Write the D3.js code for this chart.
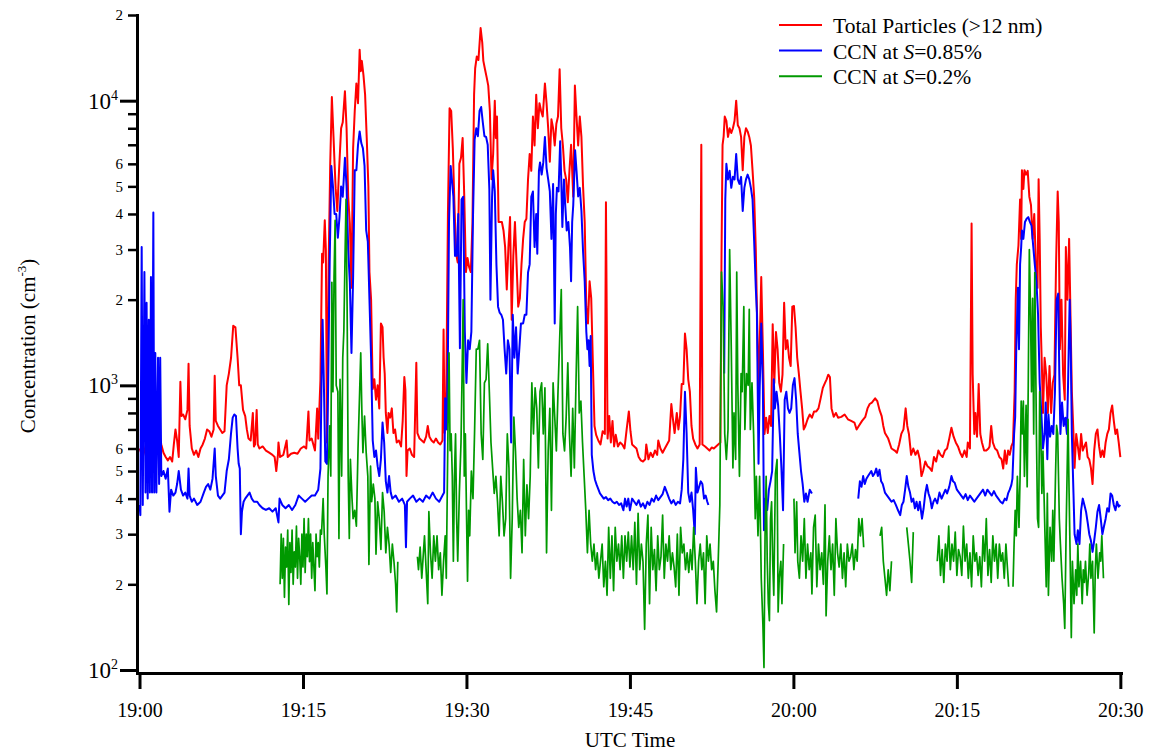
<!DOCTYPE html>
<html>
<head>
<meta charset="utf-8">
<script src="https://cdn.jsdelivr.net/npm/d3@7"></script>
<style>
  body { margin: 0; background: #fff; }
  text { font-family: "Liberation Serif", "Times New Roman", serif; fill: #000; }
</style>
</head>
<body>
<svg id="chart" width="1154" height="751"></svg>
<script>
// minutes after 19:00 UTC
const timeTicks = [0, 15, 30, 45, 60, 75, 90];
const timeLabels = ["19:00", "19:15", "19:30", "19:45", "20:00", "20:15", "20:30"];
const yMajorTicks = [100, 1000, 10000];
const yMajorLabels = ["2", "3", "4"]; // exponents of 10
const yMinorTicks = [200, 300, 400, 500, 600, 700, 800, 900,
  2000, 3000, 4000, 5000, 6000, 7000, 8000, 9000, 20000];

const legendNames = ["Total Particles (>12 nm)", "CCN at S=0.85%", "CCN at S=0.2%"];
const seriesColors = ["#ff0000", "#0000ff", "#009900"];

// [minute, cm^-3], null = no data
const totalParticles = [
  [0,600],[0.3,560],[0.6,620],[0.9,580],[1.2,640],[1.5,600],[1.8,680],[2,620],[2.2,580],[2.4,560],[2.6,545],[2.8,560],
  [3,540],[3.15,620],[3.3,700],[3.45,640],[3.6,560],[3.75,1030],[3.85,780],[4,790],[4.2,760],[4.4,820],[4.5,1190],[4.6,720],
  [4.8,600],[5,570],[5.2,590],[5.4,560],[5.6,600],[5.8,620],[6,650],[6.2,700],[6.4,690],[6.6,660],[6.8,700],[6.9,1080],
  [7,750],[7.2,720],[7.4,700],[7.6,680],[7.8,690],[8,1000],[8.2,1100],[8.4,1250],[8.6,1620],[8.8,1600],[9,1250],[9.15,1000],
  [9.3,1000],[9.5,820],[9.7,780],[9.85,700],[10,650],[10.2,640],[10.4,800],[10.5,610],[10.6,620],[10.75,820],[10.85,620],
  [11,600],[11.3,610],[11.6,590],[11.9,580],[12.2,570],[12.4,560],[12.55,500],[12.7,570],[12.75,630],[12.9,560],[13.2,570],
  [13.5,640],[13.6,560],[13.9,575],[14.2,580],[14.5,575],[14.8,600],[15.1,610],[15.3,600],[15.5,810],[15.6,640],[15.8,650],
  [16,610],[16.1,590],[16.3,830],[16.4,650],[16.6,1040],[16.75,2900],[16.85,2700],[17,3800],[17.1,3000],[17.2,630],[17.35,2600],
  [17.5,6000],[17.65,10300],[17.8,7500],[17.9,6000],[18,4900],[18.15,4100],[18.3,5600],[18.5,8000],[18.65,8400],[18.85,10800],
  [19,8000],[19.15,4600],[19.3,3700],[19.45,2200],[19.6,6800],[19.75,9200],[19.9,11500],[20.05,9800],[20.2,15100],[20.3,12700],
  [20.4,13800],[20.55,12300],[20.7,10500],[20.85,7400],[21,5000],[21.1,2500],[21.25,2000],[21.4,970],[21.55,1050],[21.7,890],
  [21.85,1000],[22,830],[22.15,1650],[22.3,1600],[22.4,1250],[22.5,1100],[22.6,800],[22.75,680],[22.85,800],[23,770],[23.15,830],
  [23.3,680],[23.45,700],[23.6,630],[23.8,640],[24,610],[24.15,750],[24.3,1070],[24.4,960],[24.5,480],[24.6,590],[24.8,600],
  [25,570],[25.2,560],[25.4,1200],[25.5,680],[25.7,650],[25.9,640],[26.1,630],[26.3,660],[26.45,720],[26.6,660],[26.8,640],
  [27,630],[27.2,650],[27.4,630],[27.6,620],[27.8,640],[27.9,1570],[28,680],[28.15,950],[28.3,4000],[28.45,9400],[28.6,9200],
  [28.75,6800],[28.9,4300],[29.05,2900],[29.2,2700],[29.35,6000],[29.5,6300],[29.65,7400],[29.8,4600],[29.95,2500],[30.1,2800],
  [30.25,2600],[30.4,2500],[30.55,3700],[30.7,10500],[30.8,13000],[30.95,14300],[31.1,13900],[31.3,18000],[31.45,16000],
  [31.55,13800],[31.7,12900],[31.85,12100],[32,11300],[32.15,9200],[32.3,5300],[32.45,6500],[32.6,10000],[32.7,7400],[32.8,8800],
  [32.95,3750],[33.1,3750],[33.25,3750],[33.4,3500],[33.55,3060],[33.7,2170],[33.85,3060],[34,3900],[34.15,1700],[34.3,2850],
  [34.45,3750],[34.6,2660],[34.75,1890],[34.9,2020],[35.05,2660],[35.2,3270],[35.35,3750],[35.5,3850],[35.65,5290],[35.8,6500],
  [35.95,5670],[36.1,8800],[36.25,6960],[36.4,10500],[36.55,8000],[36.7,9800],[36.85,9200],[37,8800],[37.2,11500],[37.35,9800],
  [37.5,8000],[37.65,6100],[37.8,8600],[37.95,8000],[38.1,6960],[38.25,8300],[38.4,8800],[38.55,12900],[38.7,8000],[38.85,6960],
  [39,5670],[39.15,5290],[39.3,4400],[39.45,5670],[39.6,7000],[39.8,4600],[39.95,11300],[40.1,8800],[40.25,6960],[40.4,8800],
  [40.55,7460],[40.7,5000],[40.85,3750],[41,1890],[41.15,1650],[41.3,2320],[41.45,2020],[41.6,1200],[41.75,720],[41.9,670],
  [42.1,640],[42.3,620],[42.5,690],[42.7,675],[42.8,4400],[42.95,650],[43.1,780],[43.25,630],[43.4,750],[43.55,610],[43.7,670],
  [43.9,610],[44.1,630],[44.3,620],[44.5,600],[44.7,700],[44.9,810],[45.05,690],[45.2,620],[45.4,610],[45.6,600],[45.8,560],
  [46,545],[46.2,540],[46.4,550],[46.5,620],[46.7,550],[46.9,580],[47.1,560],[47.3,590],[47.5,570],[47.6,640],[47.8,600],
  [48,580],[48.2,600],[48.4,620],[48.6,640],[48.8,860],[48.95,760],[49.1,680],[49.3,800],[49.45,700],[49.6,780],[49.75,1010],
  [49.9,1010],[50.05,1520],[50.2,1340],[50.35,1050],[50.5,950],[50.65,720],[50.8,650],[51,620],[51.2,600],[51.4,620],
  [51.55,7000],[51.65,620],[51.9,610],[52.1,600],[52.3,590],[52.5,605],[52.7,600],[52.9,610],[53.1,620],[53.3,630],[53.4,2750],
  [53.5,7000],[53.6,7500],[53.7,8800],[53.85,8500],[54,7460],[54.15,8000],[54.3,7700],[54.45,8000],[54.6,8500],[54.75,10000],
  [54.9,8200],[55.05,8000],[55.2,7460],[55.35,5700],[55.5,7460],[55.65,8000],[55.8,7800],[55.95,7460],[56.1,6960],[56.25,5700],
  [56.4,4600],[56.55,3000],[56.65,1890],[56.8,970],[56.9,1340],[57.05,2400],[57.2,1340],[57.35,675],[57.5,770],[57.65,680],
  [57.8,780],[57.95,720],[58.1,1640],[58.25,1020],[58.4,1540],[58.55,1340],[58.7,1020],[58.85,950],[59,1090],[59.15,1950],
  [59.3,1340],[59.45,1440],[59.6,1250],[59.75,1170],[59.9,1890],[60.05,1900],[60.2,1600],[60.35,1250],[60.5,1100],[60.65,950],
  [60.8,830],[60.95,700],[61.1,720],[61.3,760],[61.5,790],[61.7,770],[61.9,810],[62.1,810],[62.3,830],[62.5,900],[62.7,980],
  [62.9,1020],[63.05,1050],[63.2,1090],[63.35,1070],[63.5,830],[63.7,775],[63.9,800],[64.1,770],[64.4,775],[64.7,790],[65,760],
  [65.3,750],[65.6,740],[65.8,700],[66,720],[66.3,750],[66.6,775],[66.8,830],[67,860],[67.2,870],[67.5,900],[67.7,880],
  [67.9,820],[68.1,780],[68.25,720],[68.4,680],[68.7,650],[69,600],[69.3,590],[69.5,580],[69.7,620],[69.9,675],[70.1,700],
  [70.3,830],[70.45,720],[70.6,675],[70.8,570],[71,600],[71.2,570],[71.4,590],[71.6,550],[71.75,480],[71.9,500],[72.1,540],
  [72.3,520],[72.5,513],[72.7,500],[72.9,560],[73.1,540],[73.3,590],[73.5,570],[73.7,560],[73.9,590],[74.1,600],[74.3,650],
  [74.5,710],[74.7,660],[74.9,630],[75.1,610],[75.3,580],[75.5,560],[75.7,590],[75.9,560],[76,630],[76.2,600],[76.35,3700],
  [76.45,1090],[76.6,675],[76.7,800],[76.85,660],[77,1010],[77.15,675],[77.3,630],[77.5,590],[77.7,590],[77.9,600],[78,610],
  [78.15,720],[78.3,630],[78.5,600],[78.7,590],[78.9,560],[79.1,550],[79.25,510],[79.4,590],[79.55,530],[79.7,590],[79.85,570],
  [80,610],[80.15,630],[80.3,950],[80.4,2000],[80.5,2660],[80.65,3100],[80.8,4500],[80.9,3270],[80.97,5700],[81.1,4900],
  [81.2,5700],[81.35,5500],[81.5,5670],[81.65,4600],[81.8,4300],[81.95,3270],[82.1,4000],[82.25,2660],[82.4,2200],[82.5,5300],
  [82.6,3270],[82.7,1600],[82.8,1170],[82.9,800],[83.05,1250],[83.2,1090],[83.35,800],[83.5,1170],[83.65,800],[83.8,1020],
  [83.95,1090],[84.1,2660],[84.25,4800],[84.35,3750],[84.45,1340],[84.6,2000],[84.75,1090],[84.9,890],[85,3060],[85.15,2000],
  [85.3,3270],[85.4,2000],[85.55,950],[85.7,675],[85.8,513],[85.95,675],[86.1,610],[86.25,550],[86.4,675],[86.55,590],[86.7,610],
  [86.85,630],[87,560],[87.15,549],[87.3,513],[87.45,450],[87.6,590],[87.75,675],[87.9,700],[88.05,610],[88.2,560],[88.35,590],
  [88.5,560],[88.65,630],[88.8,675],[88.95,700],[89.1,800],[89.25,850],[89.4,750],[89.55,675],[89.7,700],[89.85,630],[90,560]
];

const ccnHigh = [
  [0,380],[0.08,350],[0.2,3060],[0.3,380],[0.45,2500],[0.55,420],[0.65,1950],[0.75,400],[0.85,1700],[0.95,420],[1.05,2400],
  [1.15,420],[1.27,4050],[1.35,420],[1.45,1300],[1.55,420],[1.7,1250],[1.8,450],[1.9,1250],[2,480],[2.2,500],[2.4,470],[2.6,510],
  [2.75,360],[2.9,430],[3.1,410],[3.3,420],[3.45,450],[3.6,500],[3.8,430],[4,410],[4.2,420],[4.4,400],[4.5,510],[4.6,410],
  [4.8,390],[5,400],[5.3,380],[5.6,390],[5.9,420],[6.1,440],[6.3,450],[6.5,430],[6.7,470],[6.9,600],[7,480],[7.2,410],[7.4,400],
  [7.6,410],[7.8,420],[8,500],[8.2,550],[8.4,680],[8.55,770],[8.7,790],[8.85,780],[9,600],[9.1,530],[9.2,510],[9.3,300],[9.4,360],
  [9.55,390],[9.7,400],[9.9,410],[10.1,420],[10.3,400],[10.5,390],[10.8,390],[11,380],[11.3,370],[11.6,365],[11.9,370],[12.2,360],
  [12.5,370],[12.75,330],[12.85,400],[13.1,380],[13.4,370],[13.7,380],[14,365],[14.3,380],[14.6,410],[14.9,400],[15.2,390],
  [15.5,400],[15.8,410],[16.1,410],[16.4,430],[16.6,510],[16.7,1030],[16.8,1700],[16.9,1100],[17.05,540],[17.2,530],[17.3,950],
  [17.45,2700],[17.6,5900],[17.75,5000],[17.9,4000],[18.05,4000],[18.2,3300],[18.35,3900],[18.5,5000],[18.65,4600],[18.85,6300],
  [19,5000],[19.15,3000],[19.3,2300],[19.45,1300],[19.6,2400],[19.75,5700],[19.9,5700],[20.05,7000],[20.2,7800],[20.35,7100],
  [20.5,6800],[20.65,5900],[20.8,3500],[20.95,3200],[21.1,2000],[21.25,1250],[21.4,640],[21.55,560],[21.7,590],[21.85,520],
  [22,480],[22.15,550],[22.3,740],[22.45,630],[22.6,460],[22.75,420],[22.9,480],[23.05,420],[23.2,400],[23.5,410],[23.8,390],
  [24.1,400],[24.35,380],[24.45,270],[24.55,390],[24.8,400],[25.1,410],[25.4,390],[25.7,400],[26,390],[26.3,410],[26.6,400],
  [26.9,420],[27.2,400],[27.5,390],[27.8,410],[27.95,420],[28.05,900],[28.2,700],[28.3,1300],[28.4,3750],[28.55,5900],[28.7,5100],
  [28.8,4600],[28.95,2850],[29.1,2850],[29.25,4000],[29.4,1350],[29.55,4500],[29.7,4600],[29.85,1550],[30,1020],[30.15,1440],
  [30.3,1340],[30.45,1540],[30.6,3900],[30.75,7300],[30.9,8000],[31.05,7500],[31.2,9200],[31.35,9500],[31.5,8400],[31.65,7500],
  [31.8,7460],[31.95,7000],[32.1,4900],[32.2,2000],[32.35,4600],[32.45,5700],[32.6,4800],[32.75,2660],[32.9,1890],[33.05,1800],
  [33.2,1770],[33.35,1700],[33.5,1340],[33.65,1100],[33.8,1440],[33.95,1340],[34.1,630],[34.25,1770],[34.4,1250],[34.55,1600],
  [34.7,1100],[34.85,1340],[35,1650],[35.2,1650],[35.35,1770],[35.5,1770],[35.65,2490],[35.8,2660],[35.95,4600],[36.1,4800],
  [36.25,3060],[36.4,4000],[36.5,2900],[36.65,5670],[36.75,6070],[36.9,5500],[37.05,6070],[37.2,7460],[37.35,5800],[37.5,5290],
  [37.65,4800],[37.8,3270],[37.95,5100],[38.1,1650],[38.2,4000],[38.3,4940],[38.45,4800],[38.6,7200],[38.7,5290],[38.8,3600],
  [38.95,5290],[39.05,4400],[39.2,3500],[39.35,3750],[39.5,3060],[39.6,2320],[39.7,3750],[39.8,4300],[39.97,6700],[40.1,5670],
  [40.25,4610],[40.4,4940],[40.55,4100],[40.7,2950],[40.85,2320],[41,1540],[41.1,1340],[41.2,1440],[41.3,1170],[41.4,1490],
  [41.5,570],[41.65,500],[41.8,465],[41.95,447],[42.1,432],[42.25,417],[42.4,410],[42.6,400],[42.8,405],[43,395],[43.2,400],
  [43.4,390],[43.6,385],[43.8,390],[44,380],[44.2,385],[44.4,364],[44.55,400],[44.7,375],[44.85,400],[45,364],[45.2,400],
  [45.4,390],[45.6,380],[45.8,395],[46,375],[46.2,385],[46.4,370],[46.6,390],[46.8,380],[47,400],[47.2,390],[47.4,410],
  [47.6,395],[47.8,405],[48,415],[48.2,440],[48.4,420],[48.6,400],[48.8,385],[49,395],[49.2,380],[49.4,390],[49.6,385],
  [49.75,430],[49.9,550],[50.05,950],[50.2,680],[50.35,420],[50.5,390],[50.65,420],[50.8,365],[50.95,300],[51.05,513],[51.2,420],
  [51.35,440],[51.5,460],[51.65,450],[51.8,400],[51.95,410],[52.1,390],[52.2,380],[52.3,null],
  [53.6,null],[53.65,1100],[53.75,4500],[53.85,6000],[54,5290],[54.15,5670],[54.3,4940],[54.45,5400],[54.6,5290],[54.75,6500],
  [54.9,5290],[55.05,5100],[55.2,5400],[55.35,4100],[55.5,4940],[55.65,5290],[55.8,5500],[55.95,5290],[56.1,4940],[56.25,4500],
  [56.4,3200],[56.55,2200],[56.65,1800],[56.8,530],[56.9,950],[57.05,1650],[57.2,1000],[57.3,310],[57.45,400],[57.6,365],
  [57.75,430],[57.9,460],[58.05,500],[58.2,1050],[58.3,830],[58.45,950],[58.6,850],[58.75,675],[58.9,513],[59.05,364],[59.2,890],
  [59.35,950],[59.5,830],[59.65,800],[59.8,830],[59.95,1000],[60.1,1060],[60.25,890],[60.4,675],[60.55,580],[60.7,500],
  [60.85,450],[61,390],[61.15,417],[61.3,390],[61.5,430],[61.7,417],[61.8,null],
  [65.9,null],[65.95,400],[66.1,460],[66.25,440],[66.4,480],[66.55,450],[66.7,470],[66.85,480],[67,490],[67.15,500],[67.3,480],
  [67.45,490],[67.6,510],[67.75,480],[67.9,505],[68.05,460],[68.2,450],[68.4,420],[68.6,410],[68.8,400],[69,390],[69.2,395],
  [69.4,380],[69.6,364],[69.8,350],[69.95,380],[70.1,390],[70.25,430],[70.4,480],[70.55,440],[70.7,420],[70.85,390],[71,400],
  [71.15,370],[71.3,390],[71.45,364],[71.6,390],[71.8,340],[71.95,370],[72.1,417],[72.25,447],[72.4,417],[72.55,400],[72.7,370],
  [72.85,390],[73,400],[73.2,385],[73.4,420],[73.6,400],[73.8,417],[73.95,430],[74.1,417],[74.3,440],[74.5,480],[74.65,460],
  [74.8,455],[75,430],[75.2,420],[75.4,410],[75.6,400],[75.8,415],[76,395],[76.2,410],[76.4,400],[76.6,390],[76.8,400],[77,410],
  [77.2,420],[77.4,430],[77.6,410],[77.8,430],[78,420],[78.2,410],[78.4,425],[78.6,410],[78.8,400],[79,390],[79.2,385],[79.4,400],
  [79.55,395],[79.7,417],[79.85,430],[80,447],[80.1,470],[80.25,675],[80.35,774],[80.45,1340],[80.6,2200],[80.7,1340],[80.8,2660],
  [80.9,3060],[80.97,3500],[81.1,3270],[81.25,3750],[81.4,3850],[81.55,3900],[81.7,3750],[81.85,3640],[82,3100],[82.15,2660],
  [82.3,2320],[82.45,1770],[82.6,1020],[82.75,800],[82.9,600],[83.05,675],[83.15,870],[83.3,550],[83.4,790],[83.55,660],
  [83.7,720],[83.85,675],[84,950],[84.15,2000],[84.3,2100],[84.4,1090],[84.5,675],[84.65,870],[84.8,720],[84.95,770],[85.1,675],
  [85.2,1000],[85.35,2000],[85.45,1340],[85.55,675],[85.7,417],[85.8,300],[85.98,277],[86.1,310],[86.25,277],[86.4,364],
  [86.55,400],[86.7,380],[86.85,360],[87,330],[87.15,300],[87.3,285],[87.45,260],[87.6,285],[87.75,317],[87.9,360],[88.05,380],
  [88.2,340],[88.35,300],[88.5,320],[88.65,340],[88.8,370],[88.95,360],[89.1,417],[89.25,410],[89.4,380],[89.55,364],[89.7,390],
  [89.85,375],[90,380]
];

const ccnLow = [
  [12.9,200],[13,300],[13.1,210],[13.2,290],[13.3,180],[13.4,270],[13.5,230],[13.6,310],[13.7,170],[13.8,280],[13.9,220],
  [14,310],[14.1,200],[14.2,260],[14.3,230],[14.4,320],[14.5,210],[14.6,290],[14.7,250],[14.8,200],[14.9,300],[15,230],
  [15.1,340],[15.2,220],[15.3,300],[15.4,250],[15.5,340],[15.6,240],[15.7,300],[15.8,210],[15.9,280],[16,230],[16.1,190],
  [16.2,300],[16.3,250],[16.4,280],[16.5,230],[16.6,310],[16.7,300],[16.85,400],[16.95,300],[17.1,230],[17.2,185],[17.3,480],
  [17.45,720],[17.55,480],[17.65,2300],[17.75,950],[17.85,2400],[17.95,3800],[18.05,1000],[18.2,950],[18.3,290],[18.4,1050],
  [18.55,480],[18.65,1250],[18.75,1550],[18.85,2700],[18.95,4500],[19.05,1890],[19.15,480],[19.25,290],[19.35,550],[19.5,400],
  [19.6,340],[19.75,364],[19.9,320],[20.05,600],[20.2,950],[20.3,1300],[20.4,820],[20.5,580],[20.65,780],[20.8,580],[20.95,480],
  [21.05,235],[21.2,520],[21.3,390],[21.45,450],[21.6,400],[21.7,255],[21.85,390],[22,340],[22.15,265],[22.3,420],[22.45,360],
  [22.6,258],[22.75,317],[22.9,277],[23.05,220],[23.2,277],[23.35,240],[23.5,200],[23.6,160],[23.7,240],[23.8,null],
  [25.4,null],[25.5,250],[25.6,225],[25.75,270],[25.9,210],[26,241],[26.15,296],[26.3,225],[26.45,171],[26.55,360],[26.7,258],
  [26.85,210],[27,296],[27.15,241],[27.3,296],[27.45,225],[27.6,258],[27.75,183],[27.9,241],[28.05,296],[28.15,210],[28.3,680],
  [28.4,1300],[28.5,590],[28.6,675],[28.7,480],[28.8,241],[28.9,480],[29,675],[29.1,340],[29.2,241],[29.35,420],[29.5,630],
  [29.6,1100],[29.7,2000],[29.8,480],[29.9,675],[30,364],[30.1,205],[30.2,364],[30.3,296],[30.45,500],[30.6,400],[30.75,700],
  [30.9,1340],[31.05,1340],[31.2,1440],[31.35,675],[31.5,549],[31.65,1020],[31.8,1050],[31.95,1400],[32.1,950],[32.25,630],
  [32.4,513],[32.55,417],[32.7,479],[32.85,390],[33,296],[33.15,479],[33.3,390],[33.45,296],[33.6,340],[33.75,675],[33.9,513],
  [34.05,210],[34.2,340],[34.35,774],[34.5,588],[34.65,400],[34.8,317],[34.95,364],[35.1,258],[35.25,549],[35.4,296],[35.55,447],
  [35.7,340],[35.85,479],[36,1020],[36.15,675],[36.3,980],[36.45,830],[36.6,513],[36.75,950],[36.9,1020],[37.05,675],[37.2,980],
  [37.35,258],[37.5,588],[37.65,830],[37.8,364],[37.95,1020],[38.1,774],[38.25,588],[38.4,950],[38.55,1440],[38.7,2170],
  [38.85,675],[39,588],[39.15,774],[39.3,1200],[39.45,675],[39.6,479],[39.75,830],[39.9,513],[40.05,1020],[40.2,1890],[40.35,800],
  [40.5,880],[40.65,630],[40.8,479],[40.95,364],[41.1,258],[41.25,364],[41.4,277],[41.55,241],[41.7,277],[41.85,225],[42,258],
  [42.15,210],[42.3,241],[42.45,277],[42.6,196],[42.75,241],[42.9,183],[43.05,317],[43.2,210],[43.35,296],[43.5,190],[43.65,317],
  [43.8,241],[43.95,277],[44.1,225],[44.25,296],[44.4,210],[44.55,296],[44.7,241],[44.85,305],[45,230],[45.15,296],[45.3,225],
  [45.45,330],[45.6,200],[45.75,355],[45.9,225],[46.05,277],[46.2,240],[46.35,139],[46.5,277],[46.65,350],[46.8,171],[46.95,317],
  [47.1,225],[47.25,265],[47.4,190],[47.55,296],[47.7,225],[47.85,250],[48,350],[48.15,210],[48.3,277],[48.45,241],[48.6,296],
  [48.75,225],[48.9,258],[49.05,230],[49.2,196],[49.35,300],[49.5,183],[49.65,317],[49.8,258],[49.95,277],[50.1,225],[50.25,258],
  [50.4,220],[50.55,265],[50.7,225],[50.85,317],[51,241],[51.15,171],[51.3,241],[51.45,277],[51.6,225],[51.75,258],[51.9,171],
  [52.05,296],[52.2,241],[52.35,277],[52.5,225],[52.65,241],[52.8,190],[52.95,160],[53.1,241],[53.25,380],[53.4,2500],
  [53.55,1890],[53.7,675],[53.85,549],[54,700],[54.15,3000],[54.3,1340],[54.45,513],[54.55,800],[54.7,549],[54.8,2500],[54.9,1000],
  [55.05,479],[55.2,1100],[55.3,950],[55.45,1890],[55.55,700],[55.7,1100],[55.85,1000],[55.95,1850],[56.05,700],[56.2,1020],
  [56.35,675],[56.5,340],[56.6,479],[56.75,296],[56.9,479],[57.05,210],[57.2,145],[57.3,102],[57.4,296],[57.5,479],[57.6,241],
  [57.7,171],[57.8,149],[57.9,340],[58,390],[58.1,241],[58.2,183],[58.35,490],[58.5,549],[58.6,160],[58.7,210],[58.85,241],
  [58.95,171],[59.1,277],[59.2,null],
  [60,null],[60.05,400],[60.15,258],[60.3,390],[60.4,241],[60.55,210],[60.7,296],[60.85,241],[61,340],[61.15,210],[61.3,277],
  [61.45,225],[61.6,258],[61.7,185],[61.85,317],[62,350],[62.15,196],[62.3,277],[62.45,225],[62.6,258],[62.75,200],[62.9,380],
  [63,155],[63.15,241],[63.3,296],[63.45,225],[63.6,277],[63.75,183],[63.9,340],[64.05,258],[64.2,230],[64.35,277],[64.5,210],
  [64.65,258],[64.8,196],[64.95,277],[65.1,241],[65.25,250],[65.4,277],[65.55,225],[65.7,265],[65.85,241],[66,340],[66.15,296],
  [66.3,340],[66.45,270],[66.55,null],
  [67.9,null],[67.95,296],[68.1,317],[68.25,241],[68.4,210],[68.55,183],[68.7,225],[68.85,190],[69,241],[69.1,null],
  [70.3,null],[70.4,317],[70.55,277],[70.7,241],[70.85,203],[71,305],[71.1,null],
  [73.1,null],[73.2,241],[73.35,296],[73.5,215],[73.65,265],[73.8,203],[73.95,277],[74.1,241],[74.25,320],[74.4,225],[74.55,277],
  [74.7,241],[74.85,305],[75,215],[75.15,265],[75.3,250],[75.45,215],[75.6,320],[75.75,241],[75.9,277],[76.05,210],[76.2,258],
  [76.35,196],[76.5,296],[76.65,241],[76.8,258],[76.95,215],[77.1,250],[77.25,196],[77.4,296],[77.55,241],[77.7,340],[77.85,215],
  [78,265],[78.15,203],[78.3,296],[78.45,241],[78.6,277],[78.75,210],[78.9,277],[79.05,241],[79.2,258],[79.35,210],[79.5,277],
  [79.65,225],[79.75,196],[79.85,null],
  [80.05,null],[80.15,196],[80.25,277],[80.35,364],[80.45,296],[80.55,479],[80.7,317],[80.8,479],[80.9,880],[81,675],[81.1,880],
  [81.2,479],[81.35,850],[81.45,440],[81.55,1000],[81.65,3000],[81.75,1890],[81.85,950],[81.95,2020],[82.05,675],[82.15,2490],
  [82.3,675],[82.4,340],[82.5,317],[82.6,950],[82.7,675],[82.8,417],[82.9,588],[83.05,340],[83.2,196],[83.3,417],[83.4,183],
  [83.55,317],[83.7,241],[83.8,364],[83.9,241],[84.05,479],[84.15,723],[84.25,675],[84.4,340],[84.5,277],[84.65,210],[84.8,171],
  [84.9,140],[85.03,317],[85.2,760],[85.3,417],[85.4,241],[85.5,130],[85.6,241],[85.75,171],[85.9,225],[86,183],[86.1,277],
  [86.2,196],[86.35,241],[86.5,171],[86.6,225],[86.7,203],[86.8,241],[86.95,183],[87.1,220],[87.2,277],[87.3,210],[87.45,241],
  [87.6,135],[87.7,225],[87.8,277],[87.95,210],[88.1,258],[88.2,241],[88.3,296],[88.45,210]
];

const seriesData = [totalParticles, ccnHigh, ccnLow];

const svg = d3.select("#chart");
svg.append("rect").attr("width", 1154).attr("height", 751).attr("fill", "#fff");

const x = d3.scaleLinear().domain([-0.23, 90.06]).range([137, 1121]);
const y = d3.scaleLog().domain([97.6, 20000]).range([673, 15]);

// data lines
let line = d3.line()
  .defined(d => d[1] != null)
  .x(d => x(d[0]))
  .y(d => y(d[1]));

svg.append("g")
  .selectAll("path")
  .data(seriesData)
  .enter()
  .append("path")
  .attr("d", d => line(d))
  .attr("fill", "none")
  .attr("stroke", (d, i) => seriesColors[i])
  .attr("stroke-width", (d, i) => i == 2 ? 1.7 : 2)
  .attr("stroke-linejoin", "round");

// x axis
let xAxis = svg.append("g")
  .attr("transform", "translate(0,673)")
  .call(d3.axisBottom(x)
    .tickValues(timeTicks)
    .tickFormat((d, i) => timeLabels[i])
    .tickSize(16)
    .tickSizeOuter(0)
    .tickPadding(14));
xAxis.select(".domain").attr("stroke-width", 3).attr("stroke-linecap", "square");
xAxis.selectAll(".tick line").attr("stroke-width", 3);
xAxis.selectAll(".tick text").attr("font-size", 20).attr("font-family", "Liberation Serif");

// y axis, minor ticks with mantissa labels
let yMinor = svg.append("g")
  .attr("transform", "translate(137,0)")
  .call(d3.axisLeft(y)
    .tickValues(yMinorTicks)
    .tickFormat(d => {
      let m = Math.round(d / Math.pow(10, Math.floor(Math.log10(d))));
      return m <= 6 ? String(m) : "";
    })
    .tickSize(9)
    .tickSizeOuter(0)
    .tickPadding(5));
yMinor.select(".domain").attr("stroke-width", 3).attr("stroke-linecap", "square");
yMinor.selectAll(".tick line").attr("stroke-width", 2.5);
yMinor.selectAll(".tick text").attr("font-size", 15).attr("font-family", "Liberation Serif");

// y axis, decades
let yMajor = svg.append("g")
  .attr("transform", "translate(137,0)")
  .call(d3.axisLeft(y)
    .tickValues(yMajorTicks)
    .tickFormat("")
    .tickSize(17)
    .tickSizeOuter(0));
yMajor.select(".domain").remove();
yMajor.selectAll(".tick line").attr("stroke-width", 3);

let majorText = svg.append("g")
  .selectAll("text")
  .data(yMajorTicks)
  .enter()
  .append("text")
  .attr("x", 118)
  .attr("y", d => y(d))
  .attr("dy", "0.35em")
  .attr("text-anchor", "end")
  .attr("font-size", 23);
majorText.append("tspan").text("10");
majorText.append("tspan")
  .attr("font-size", 14)
  .attr("dy", -9)
  .text((d, i) => yMajorLabels[i]);

// axis titles
svg.append("text")
  .attr("x", 630)
  .attr("y", 747)
  .attr("text-anchor", "middle")
  .attr("font-size", 21)
  .text("UTC Time");

let yTitle = svg.append("text")
  .attr("transform", "translate(35,346) rotate(-90)")
  .attr("text-anchor", "middle")
  .attr("font-size", 21);
yTitle.append("tspan").text("Concentration (cm");
yTitle.append("tspan").attr("font-size", 13).attr("dy", -9).text("-3");
yTitle.append("tspan").attr("dy", 9).text(")");

// legend
let legend = svg.append("g")
  .selectAll("g")
  .data(legendNames)
  .enter()
  .append("g")
  .attr("transform", (d, i) => `translate(779,${25 + i * 25.6})`);
legend.append("line")
  .attr("x1", 0).attr("x2", 43)
  .attr("stroke", (d, i) => seriesColors[i])
  .attr("stroke-width", 2);
let legendText = legend.append("text")
  .attr("x", 54)
  .attr("y", 8)
  .attr("font-size", 21.5);
legendText.each(function(d) {
  let t = d3.select(this);
  let k = d.indexOf("S=");
  if (k < 0) { t.text(d); return; }
  t.append("tspan").text(d.slice(0, k));
  t.append("tspan").attr("font-style", "italic").text("S");
  t.append("tspan").text(d.slice(k + 1));
});
</script>
</body>
</html>
